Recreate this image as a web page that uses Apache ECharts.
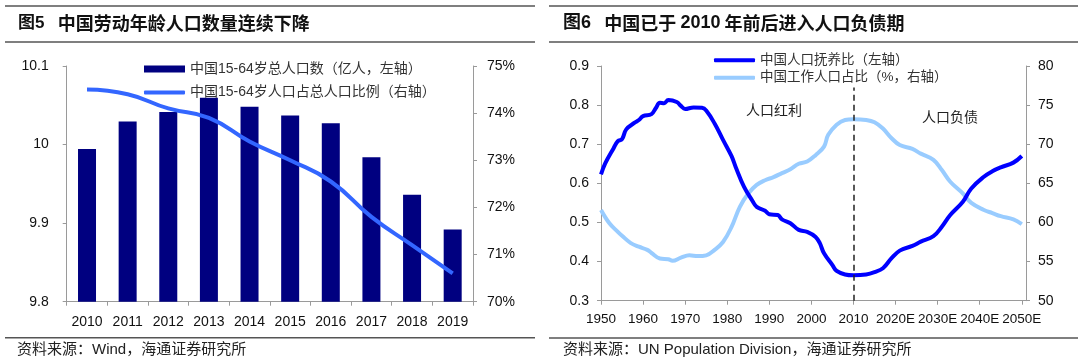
<!DOCTYPE html>
<html>
<head>
<meta charset="utf-8">
<script src="https://cdn.jsdelivr.net/npm/echarts@6/dist/echarts.min.js"></script>
<style>
html,body{margin:0;padding:0;background:#fff;}
#c{width:1080px;height:359px;}
</style>
</head>
<body>
<div id="c"></div>
<script>
// ---------- Figure 5 data ----------
const years5 = ['2010','2011','2012','2013','2014','2015','2016','2017','2018','2019'];
const workingPop = [9.9944, 10.0294, 10.0413, 10.0595, 10.0480, 10.0370, 10.0272, 9.9838, 9.9361, 9.8918];
const workingShare = [74.5, 74.4, 74.1, 73.9, 73.4, 73.0, 72.55, 71.8, 71.2, 70.6];
const leftTicks5 = [9.8, 10.1, 0.1];
const rightTicks5 = [70, 75, 1];

// ---------- Figure 6 data ----------
const depYears = [1950,1951,1953,1954,1955,1956,1958,1959,1960,1962,1963,1964,1965,1966,1968,1969,1970,1972,1974,1975,1977,1979,1981,1982,1984,1986,1987,1989,1990,1992,1993,1995,1997,1999,2001,2002,2003,2005,2006,2008,2010,2013,2015,2017,2019,2021,2024,2026,2029,2031,2033,2036,2038,2041,2043,2045,2048,2050];
const depRatio = [0.623,0.651,0.690,0.708,0.713,0.738,0.755,0.762,0.772,0.777,0.792,0.806,0.805,0.813,0.808,0.798,0.790,0.794,0.793,0.786,0.753,0.711,0.670,0.642,0.591,0.555,0.540,0.530,0.521,0.519,0.508,0.498,0.481,0.476,0.463,0.447,0.421,0.391,0.376,0.367,0.365,0.367,0.373,0.383,0.408,0.428,0.440,0.451,0.465,0.489,0.519,0.553,0.587,0.617,0.631,0.641,0.653,0.670];
const workYears = [1950,1952,1954,1955,1957,1959,1961,1962,1964,1966,1967,1969,1971,1973,1975,1977,1979,1981,1983,1985,1987,1989,1991,1993,1995,1997,1999,2001,2003,2004,2006,2008,2010,2013,2015,2017,2019,2021,2024,2026,2029,2031,2033,2036,2038,2041,2043,2045,2048,2050];
const workShare = [61.6,59.9,58.8,58.3,57.4,56.9,56.5,56.1,55.4,55.3,55.1,55.5,55.8,55.7,55.8,56.5,57.5,59.4,62.0,63.7,64.8,65.4,65.8,66.3,66.8,67.5,67.8,68.6,69.7,71.2,72.5,73.1,73.2,73.1,72.8,72.0,70.8,69.9,69.4,68.8,68.0,66.7,65.2,63.7,62.5,61.6,61.2,60.8,60.4,59.8];
const xRange6 = [1950, 2051, 10];
const leftTicks6 = [0.3, 0.9, 0.1];
const rightTicks6 = [50, 80, 5];
const splitYear = 2010;
const splitTop = 0.845;

const names = {
  bar5: '中国15-64岁总人口数（亿人，左轴）',
  line5: '中国15-64岁人口占总人口比例（右轴）',
  dep: '中国人口抚养比（左轴）',
  work: '中国工作人口占比（%，右轴）'
};

const FONT = '"Liberation Sans", Arial, "Noto Sans CJK SC", sans-serif';
const CJK = '"Noto Sans CJK SC", sans-serif';
const axisGray = '#9a9a9a';

function zip(a, b){ return a.map((v,i)=>[v, b[i]]); }

const chart = echarts.init(document.getElementById('c'), null, {renderer:'canvas'});

const legendBase = {
  orient:'horizontal', itemWidth:41, itemGap:5, selectedMode:false,
  textStyle:{fontSize:13.5, color:'#333', fontFamily:FONT}
};

const option = {
  animation:false,
  backgroundColor:'#fff',
  textStyle:{fontFamily:FONT},
  grid:[
    {left:66.7, right:607, top:66, bottom:57.3},
    {left:601, right:54, top:66, bottom:58.3}
  ],
  legend:[
    Object.assign({}, legendBase, {data:[{name:names.bar5, icon:'rect'}], left:139, top:57, itemHeight:7,
      textStyle:{fontSize:14, color:'#333', fontFamily:FONT}}),
    Object.assign({}, legendBase, {data:[{name:names.line5, icon:'roundRect'}], left:139, top:80.5, itemHeight:4,
      textStyle:{fontSize:14, color:'#333', fontFamily:FONT}}),
    Object.assign({}, legendBase, {data:[{name:names.dep, icon:'roundRect'}], left:709, top:48.5, itemHeight:4}),
    Object.assign({}, legendBase, {data:[{name:names.work, icon:'roundRect'}], left:709, top:66, itemHeight:4})
  ],
  xAxis:[
    {type:'category', gridIndex:0, data:years5, boundaryGap:true,
     axisLine:{lineStyle:{color:axisGray}}, axisTick:{show:true, alignWithLabel:false, length:4, lineStyle:{color:axisGray}},
     axisLabel:{fontSize:14, color:'#111', margin:13, fontFamily:FONT}},
    {type:'value', gridIndex:1, min:xRange6[0], max:xRange6[1], interval:xRange6[2],
     splitLine:{show:false},
     axisLine:{show:true, lineStyle:{color:axisGray}}, axisTick:{show:true, length:4, lineStyle:{color:axisGray}},
     axisLabel:{fontSize:13.5, color:'#111', margin:12, fontFamily:FONT, showMaxLabel:false,
       formatter:v => (v >= 2020 ? v + 'E' : String(v))}}
  ],
  yAxis:[
    {type:'value', gridIndex:0, min:leftTicks5[0], max:leftTicks5[1], interval:leftTicks5[2],
     splitLine:{show:false}, axisLine:{show:true, lineStyle:{color:axisGray}},
     axisTick:{show:true, length:4, lineStyle:{color:axisGray}},
     axisLabel:{fontSize:14, color:'#111', margin:18, fontFamily:FONT}},
    {type:'value', gridIndex:0, position:'right', min:rightTicks5[0], max:rightTicks5[1], interval:rightTicks5[2],
     splitLine:{show:false}, axisLine:{show:true, lineStyle:{color:axisGray}},
     axisTick:{show:true, length:4, lineStyle:{color:axisGray}},
     axisLabel:{fontSize:14, color:'#111', margin:14, fontFamily:FONT, formatter:'{value}%'}},
    {type:'value', gridIndex:1, min:leftTicks6[0], max:leftTicks6[1], interval:leftTicks6[2],
     splitLine:{show:false}, axisLine:{show:true, lineStyle:{color:axisGray}},
     axisTick:{show:true, length:4, lineStyle:{color:axisGray}},
     axisLabel:{fontSize:14, color:'#111', margin:12, fontFamily:FONT}},
    {type:'value', gridIndex:1, position:'right', min:rightTicks6[0], max:rightTicks6[1], interval:rightTicks6[2],
     splitLine:{show:false}, axisLine:{show:true, lineStyle:{color:axisGray}},
     axisTick:{show:true, length:4, lineStyle:{color:axisGray}},
     axisLabel:{fontSize:14, color:'#111', margin:12, fontFamily:FONT}}
  ],
  series:[
    {name:names.bar5, type:'bar', xAxisIndex:0, yAxisIndex:0, data:workingPop, barWidth:18,
     itemStyle:{color:'#000080'}},
    {name:names.line5, type:'line', xAxisIndex:0, yAxisIndex:1, data:workingShare, smooth:true,
     symbol:'none', lineStyle:{width:4, color:'#3366ff'}, itemStyle:{color:'#3366ff'}},
    {name:names.work, type:'line', xAxisIndex:1, yAxisIndex:3, data:zip(workYears, workShare), smooth:0.4,
     symbol:'none', lineStyle:{width:4, color:'#99ccff'}, itemStyle:{color:'#99ccff'}, z:2},
    {name:names.dep, type:'line', xAxisIndex:1, yAxisIndex:2, data:zip(depYears, depRatio), smooth:0.4,
     symbol:'none', lineStyle:{width:4, color:'#0000ff'}, itemStyle:{color:'#0000ff'}, z:3,
     markLine:{silent:true, symbol:['none','none'], label:{show:false},
       lineStyle:{type:[6,4], color:'#222', width:1.5},
       data:[[{coord:[splitYear, leftTicks6[0]]},{coord:[splitYear, splitTop]}]]}}
  ],
  graphic:[
    // Figure 5 header
    {type:'line', shape:{x1:5, y1:6, x2:535, y2:6}, style:{stroke:'#555', lineWidth:1.5}},
    {type:'line', shape:{x1:5, y1:42, x2:535, y2:42}, style:{stroke:'#555', lineWidth:1.5}},
    {type:'text', left:18, top:14, style:{
      text:'{a|图5}    {b|中国劳动年龄人口数量连续下降}',
      rich:{a:{fontSize:17, fontWeight:'bold', fontFamily:'"Liberation Sans", "Noto Sans CJK SC"', fill:'#111'},
            b:{fontSize:18, fontWeight:'bold', fontFamily:CJK, fill:'#111'}}}},
    {type:'line', shape:{x1:5, y1:337.7, x2:535, y2:337.7}, style:{stroke:'#555', lineWidth:1.5}},
    {type:'text', left:17, top:342, style:{text:'资料来源：Wind，海通证券研究所', fontSize:15, fontFamily:FONT, fill:'#222'}},
    // Figure 6 header
    {type:'line', shape:{x1:549, y1:6, x2:1078, y2:6}, style:{stroke:'#555', lineWidth:1.5}},
    {type:'line', shape:{x1:549, y1:42, x2:1078, y2:42}, style:{stroke:'#555', lineWidth:1.5}},
    {type:'text', left:563, top:14, style:{
      text:'{a|图6}    {b|中国已于 }{a|2010}{b| 年前后进入人口负债期}',
      rich:{a:{fontSize:18, fontWeight:'bold', fontFamily:'"Liberation Sans", "Noto Sans CJK SC"', fill:'#111'},
            b:{fontSize:18, fontWeight:'bold', fontFamily:CJK, fill:'#111'}}}},
    {type:'line', shape:{x1:549, y1:338, x2:1078, y2:338}, style:{stroke:'#555', lineWidth:1.5}},
    {type:'text', left:563, top:342, style:{text:'资料来源：UN Population Division，海通证券研究所', fontSize:15, fontFamily:FONT, fill:'#222'}},
    // annotations
    {type:'text', left:746, top:103, style:{text:'人口红利', fontSize:14, fontFamily:CJK, fill:'#222'}},
    {type:'text', left:922, top:110, style:{text:'人口负债', fontSize:14, fontFamily:CJK, fill:'#222'}}
  ]
};
chart.setOption(option);
</script>
</body>
</html>
